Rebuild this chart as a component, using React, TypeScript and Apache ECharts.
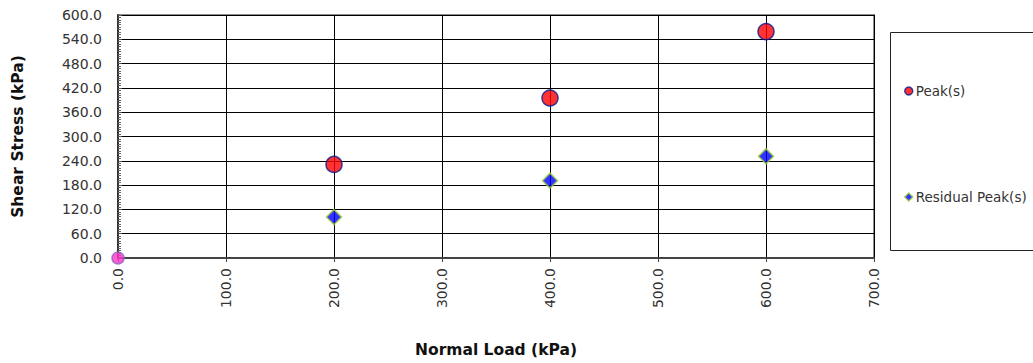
import React, { useEffect, useRef } from "react";
import * as echarts from "echarts";

const peakLoads = [200, 400, 600];
const peakStress = [231, 395, 559];
const residualLoads = [200, 400, 600];
const residualStress = [101, 191, 251];
const originPoint = [[0, 0]];
const seriesNames = ["Peak(s)", "Residual Peak(s)"];
const xTitle = "Normal Load (kPa)";
const yTitle = "Shear Stress (kPa)";

const FONT = "DejaVu Sans";

export default function App() {
  const ref = useRef<HTMLDivElement>(null);
  useEffect(() => {
    const chart = echarts.init(ref.current!, null, { renderer: "svg" });
    chart.setOption({
      animation: false,
      textStyle: { fontFamily: FONT },
      grid: { left: 118, right: 159, top: 15, bottom: 105, show: true, borderColor: "#8c8c8c", borderWidth: 2 },
      xAxis: {
        type: "value",
        min: 0,
        max: 700,
        interval: 100,
        name: xTitle,
        nameLocation: "middle",
        nameGap: 84,
        nameTextStyle: { fontFamily: FONT, fontSize: 15.5, fontWeight: "bold", color: "#111" },
        axisLine: { show: true, lineStyle: { color: "#444", width: 2 } },
        axisTick: { show: true, length: 4, lineStyle: { color: "#444" } },
        axisLabel: {
          rotate: 90,
          fontSize: 14,
          color: "#333",
          margin: 10,
          formatter: (v: number) => v.toFixed(1),
        },
        splitLine: { show: true, lineStyle: { color: "#000", width: 1 } },
      },
      yAxis: {
        type: "value",
        min: 0,
        max: 600,
        interval: 60,
        name: yTitle,
        nameLocation: "middle",
        nameGap: 92,
        nameRotate: 90,
        nameTextStyle: { fontFamily: FONT, fontSize: 15.5, fontWeight: "bold", color: "#111" },
        axisLine: { show: true, lineStyle: { color: "#333", width: 2 } },
        axisTick: { show: true, inside: true, length: 4, lineStyle: { color: "#555" } },
        minorTick: { show: true, splitNumber: 10, length: 3, lineStyle: { color: "#666" } },
        axisLabel: {
          fontSize: 14,
          color: "#333",
          margin: 16,
          formatter: (v: number) => v.toFixed(1),
        },
        splitLine: { show: true, lineStyle: { color: "#000", width: 1 } },
      },
      legend: {
        orient: "vertical",
        left: 899,
        top: 79,
        itemGap: 92,
        itemWidth: 8,
        itemHeight: 8,
        itemStyle: { borderWidth: 1.5 },
        data: seriesNames,
        textStyle: { fontFamily: FONT, fontSize: 13.5, color: "#333", padding: [0, 0, 0, -2] },
      },
      graphic: [
        {
          type: "rect",
          shape: { x: 890.5, y: 32.5, width: 160, height: 218 },
          style: { fill: "none", stroke: "#222", lineWidth: 1 },
          silent: true,
        },
      ],
      series: [
        {
          name: seriesNames[0],
          type: "scatter",
          symbol: "circle",
          symbolSize: 16,
          z: 5,
          itemStyle: { color: "#ff0000", borderColor: "#0a1a8c", borderWidth: 1.5 },
          data: peakLoads.map((x, i) => [x, peakStress[i]]),
        },
        {
          name: seriesNames[1],
          type: "scatter",
          symbol: "diamond",
          symbolSize: 15,
          z: 5,
          itemStyle: { color: "#0000ff", borderColor: "#9acd32", borderWidth: 1.5 },
          data: residualLoads.map((x, i) => [x, residualStress[i]]),
        },
        {
          name: "origin",
          type: "scatter",
          symbol: "circle",
          symbolSize: 12,
          z: 6,
          itemStyle: { color: "#ff33cc", borderColor: "#8866bb", borderWidth: 1.5 },
          data: originPoint,
        },
      ],
    });
    return () => chart.dispose();
  }, []);
  return <div ref={ref} style={{ width: 1033, height: 363, position: "absolute", left: 0, top: 0 }} />;
}
